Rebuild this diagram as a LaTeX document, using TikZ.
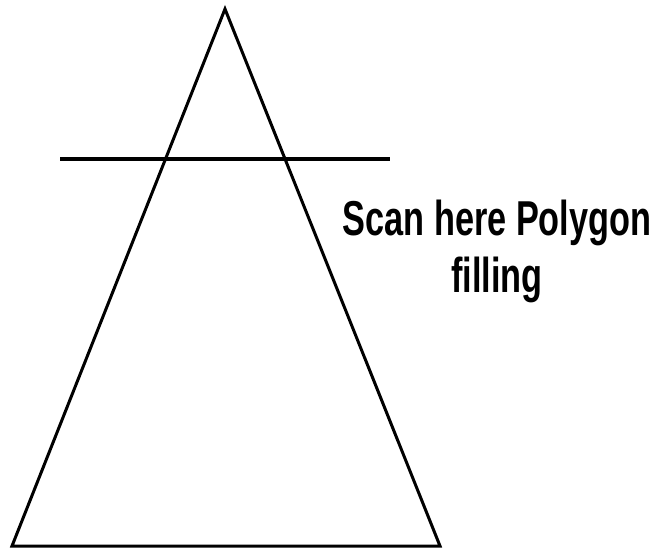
\documentclass[tikz,border=0pt]{standalone}
\usepackage{fontspec}
\setmainfont{Liberation Sans}
\usepackage{graphicx}
\usetikzlibrary{positioning}

\begin{document}
\begin{tikzpicture}[
  x=1pt, y=-1pt,
  edge/.style={line width=3pt, line join=miter},
  scanline/.style={line width=3.2pt},
  caption/.style={align=center, inner sep=0pt, font=\bfseries\fontsize{49}{57}\selectfont},
]
  \useasboundingbox (0,0) rectangle (660,551);

  % polygon to be filled
  \coordinate (apex)  at (225,9);
  \coordinate (left)  at (12,546);
  \coordinate (right) at (440,546);
  \draw[edge] (apex) -- (left) -- (right) -- cycle;

  % scan line
  \coordinate (scanA) at (60,159);
  \coordinate (scanB) at (390,159);
  \draw[scanline] (scanA) -- (scanB);

  \node[caption, anchor=base] (scantext) at (497,292)
    {\scalebox{0.7}[1]{Scan here Polygon}\\\scalebox{0.7}[1]{filling}};
\end{tikzpicture}
\end{document}
